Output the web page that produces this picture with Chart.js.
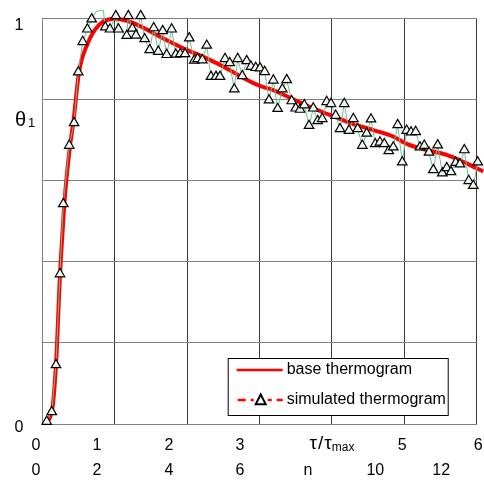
<!DOCTYPE html>
<html>
<head>
<meta charset="utf-8">
<script src="https://cdn.jsdelivr.net/npm/chart.js@4.4.0/dist/chart.umd.min.js"></script>
<style>
  html, body { margin: 0; padding: 0; background: #fff; }
  #wrap { width: 484px; height: 483px; }
</style>
</head>
<body>
<div id="wrap"><canvas id="thermo" width="484" height="483"></canvas></div>
<script>
// ------------- DATA -------------
// base thermogram (red curve), tau/tau_max vs theta_1
const baseTau   = [0.014, 0.13, 0.189, 0.245, 0.29, 0.304, 0.383, 0.428, 0.507, 0.622, 0.728, 0.843, 1.0,
                   1.166, 1.349, 1.58, 1.809, 1.994, 2.271, 2.593, 2.733, 3.007, 3.191, 3.467, 3.743,
                   4.006, 4.296, 4.572, 4.848, 5.033, 5.309, 5.586, 5.862, 6.09];
const baseTheta = [0, 0.03, 0.146, 0.37, 0.503, 0.543, 0.687, 0.743, 0.868, 0.937, 0.973, 0.993, 1.0,
                   0.995, 0.982, 0.96, 0.939, 0.923, 0.902, 0.873, 0.858, 0.834, 0.824, 0.801, 0.779,
                   0.76, 0.74, 0.725, 0.709, 0.691, 0.676, 0.664, 0.643, 0.623];

// simulated thermogram (noisy triangles)
const simTau = [0.061,0.130,0.189,0.244,0.290,0.372,0.439,0.497,0.558,0.622,
  0.682,0.742,0.843,0.870,0.935,1.015,1.052,1.166,1.188,1.243,
  1.294,1.359,1.414,1.483,1.539,1.602,1.663,1.718,1.787,1.843,
  1.906,1.971,2.030,2.099,2.146,2.210,2.271,2.330,2.399,2.454,
  2.524,2.588,2.652,2.699,2.762,2.823,2.882,2.948,3.007,3.072,
  3.131,3.191,3.251,3.315,3.376,3.445,3.500,3.560,3.619,3.684,
  3.743,3.804,3.867,3.928,3.988,4.052,4.112,4.171,4.236,4.296,
  4.356,4.420,4.481,4.540,4.599,4.664,4.724,4.785,4.848,4.909,
  4.972,5.033,5.093,5.157,5.217,5.276,5.341,5.401,5.461,5.525,
  5.586,5.645,5.710,5.769,5.829,5.890,5.953,6.014,6.073];
const simTheta = [0.006,0.030,0.146,0.370,0.543,0.687,0.743,0.868,0.943,0.974,
  0.999,1.018,1.021,0.979,0.974,1.007,0.974,0.958,1.007,0.976,
  0.959,1.007,0.950,0.923,0.977,0.919,0.970,0.911,0.974,0.912,
  0.913,0.913,0.952,0.897,0.901,0.898,0.934,0.857,0.857,0.857,
  0.901,0.891,0.826,0.901,0.859,0.896,0.882,0.879,0.878,0.869,
  0.799,0.848,0.778,0.826,0.849,0.797,0.779,0.776,0.787,0.736,
  0.779,0.748,0.753,0.795,0.790,0.761,0.728,0.790,0.724,0.753,
  0.728,0.687,0.717,0.752,0.691,0.695,0.691,0.674,0.683,0.738,
  0.646,0.724,0.720,0.721,0.683,0.687,0.670,0.627,0.688,0.619,
  0.632,0.622,0.645,0.641,0.676,0.600,0.588,0.646,0.641];

// tick labels (two rows under the x axis, two on the y axis)
const tauLabels = ['0', '1', '2', '3', 'τ/τmax', '5', '6'];
const nLabels   = ['0', '2', '4', '6', 'n', '10', '12'];
const yLabels   = ['0', '1'];
const legendLabels = ['base thermogram', 'simulated thermogram'];

const FONT = '"Liberation Sans", Arial, sans-serif';

// label rows were placed by hand in the original, so tick spots don't sit on grid lines
const tauTickAt = [-0.087, 0.756, 1.75, 2.73, 4.0, 4.97, 6.02];
const nTickAt   = [-0.087, 0.756, 1.75, 2.73, 3.67, 4.6, 5.51];

const toPts = (xs, ys) => xs.map((x, i) => ({ x, y: ys[i] }));

// no label overflow padding: the plot box is sized by hand
const noOverflow = s => { s.paddingTop = 0; s.paddingBottom = 0; s.paddingLeft = 0; s.paddingRight = 0; };

// draws the subscripted labels and the boxed legend inside the plot
const extrasPlugin = {
  id: 'extras',
  afterDraw(chart) {
    const ctx = chart.ctx;
    const area = chart.chartArea;
    ctx.save();
    ctx.fillStyle = '#000';
    ctx.textBaseline = 'alphabetic';
    ctx.textAlign = 'left';

    // tau/tau_max in place of label "4"
    const cx = chart.scales.xTau.getPixelForValue(tauTickAt[4]);
    ctx.font = '19px ' + FONT;
    const wt = ctx.measureText('τ').width, ws = ctx.measureText('/').width;
    ctx.font = '12px ' + FONT;
    const wm = ctx.measureText('max').width;
    const gap = 1;
    let x0 = cx - (wt * 2 + ws + gap * 2 + wm) / 2;
    const yb = area.bottom + 24.5;
    ctx.font = '19px ' + FONT;
    ctx.fillText('τ', x0, yb); x0 += wt + gap;
    ctx.fillText('/', x0, yb); x0 += ws + gap;
    ctx.fillText('τ', x0, yb); x0 += wt;
    ctx.font = '12px ' + FONT;
    ctx.fillText('max', x0, yb + 2);

    // theta_1 on the y side
    ctx.font = '20px ' + FONT;
    ctx.fillText('θ', 15, area.top + 107);
    ctx.font = '13px ' + FONT;
    ctx.fillText('1', 28, area.top + 108);

    // legend box
    const bx = area.right - 249, by = area.bottom - 66, bw = 220, bh = 57;
    ctx.fillStyle = '#fff';
    ctx.fillRect(bx, by, bw, bh);
    ctx.strokeStyle = '#000';
    ctx.lineWidth = 1;
    ctx.strokeRect(bx + 0.5, by + 0.5, bw, bh);

    const y1 = by + 12, y2 = by + 42;
    ctx.strokeStyle = '#ff0000';
    ctx.lineWidth = 2.5;
    ctx.beginPath();
    ctx.moveTo(bx + 9, y1); ctx.lineTo(bx + 55, y1);
    ctx.stroke();

    ctx.setLineDash([8, 5]);
    ctx.beginPath();
    ctx.moveTo(bx + 10, y2); ctx.lineTo(bx + 55, y2);
    ctx.stroke();
    ctx.setLineDash([]);

    // triangle marker
    const tx = bx + 33, r = 5.5;
    ctx.fillStyle = '#fff';
    ctx.fillRect(tx - 7, y2 - 6, 14, 12);
    ctx.beginPath();
    ctx.moveTo(tx, y2 - r);
    ctx.lineTo(tx + r * 0.9, y2 + r * 0.75);
    ctx.lineTo(tx - r * 0.9, y2 + r * 0.75);
    ctx.closePath();
    ctx.fillStyle = '#fff';
    ctx.fill();
    ctx.strokeStyle = '#000';
    ctx.lineWidth = 2;
    ctx.stroke();

    ctx.fillStyle = '#000';
    ctx.font = '16px ' + FONT;
    ctx.textBaseline = 'middle';
    ctx.fillText(legendLabels[0], bx + 59, y1);
    ctx.fillText(legendLabels[1], bx + 59, y2);
    ctx.restore();
  }
};

function labelAxis(positions, labels, pad, h, weight) {
  return {
    type: 'linear',
    position: 'bottom',
    weight,
    min: 0,
    max: 6,
    grid: { display: false, drawTicks: false },
    border: { display: false },
    afterBuildTicks: s => { s.ticks = positions.map(v => ({ value: v })); },
    ticks: {
      autoSkip: false,
      maxRotation: 0,
      padding: pad,
      color: '#000',
      font: { family: FONT, size: 16 },
      callback: (v, i) => labels[i] === 'τ/τmax' ? '' : labels[i]
    },
    afterFit: s => { s.height = h; noOverflow(s); }
  };
}

function initChart() {
  const ctx = document.getElementById('thermo').getContext('2d');
  new Chart(ctx, {
    type: 'scatter',
    data: {
      datasets: [
        {
          label: legendLabels[1],
          data: toPts(simTau, simTheta),
          showLine: true,
          borderColor: '#6fbf8c',
          borderWidth: 1,
          pointStyle: 'triangle',
          pointRadius: 5.5,
          pointBackgroundColor: '#eef8f1',
          pointBorderColor: '#000',
          pointBorderWidth: 1.2,
          clip: 12,
          order: 0
        },
        {
          label: legendLabels[0],
          data: toPts(baseTau, baseTheta),
          showLine: true,
          borderColor: '#ff0000',
          borderWidth: 4,
          pointRadius: 0,
          cubicInterpolationMode: 'monotone',
          clip: 12,
          order: 1
        }
      ]
    },
    options: {
      responsive: false,
      animation: false,
      events: [],
      layout: { padding: { top: 18.7, right: 7.3, left: 0, bottom: 0 } },
      plugins: { legend: { display: false }, tooltip: { enabled: false } },
      scales: {
        x: {
          type: 'linear', position: 'bottom', weight: 0,
          min: 0, max: 6,
          grid: { color: '#3a3a3a', drawTicks: false },
          border: { color: '#808080' },
          ticks: { display: false, stepSize: 1 },
          afterFit: s => { s.height = 0; noOverflow(s); }
        },
        xTau: labelAxis(tauTickAt, tauLabels, 11.5, 32, 1),
        xN: labelAxis(nTickAt, nLabels, 5, 27, 2),
        y: {
          type: 'linear', position: 'left', weight: 0,
          min: 0, max: 1,
          grid: { color: '#808080', drawTicks: false },
          border: { color: '#808080' },
          ticks: { display: false, stepSize: 0.2 },
          afterFit: s => { s.width = 0; noOverflow(s); }
        },
        yLab: {
          type: 'linear', position: 'left', weight: 1,
          min: 0, max: 1,
          grid: { display: false, drawTicks: false },
          border: { display: false },
          afterBuildTicks: s => { s.ticks = [-0.008, 0.983].map(v => ({ value: v })); },
          ticks: {
            autoSkip: false,
            padding: 19,
            color: '#000',
            font: { family: FONT, size: 16 },
            callback: (v, i) => yLabels[i]
          },
          afterFit: s => { s.width = 42.3; noOverflow(s); }
        }
      }
    },
    plugins: [extrasPlugin]
  });
}

window.addEventListener('load', initChart);
</script>
</body>
</html>
